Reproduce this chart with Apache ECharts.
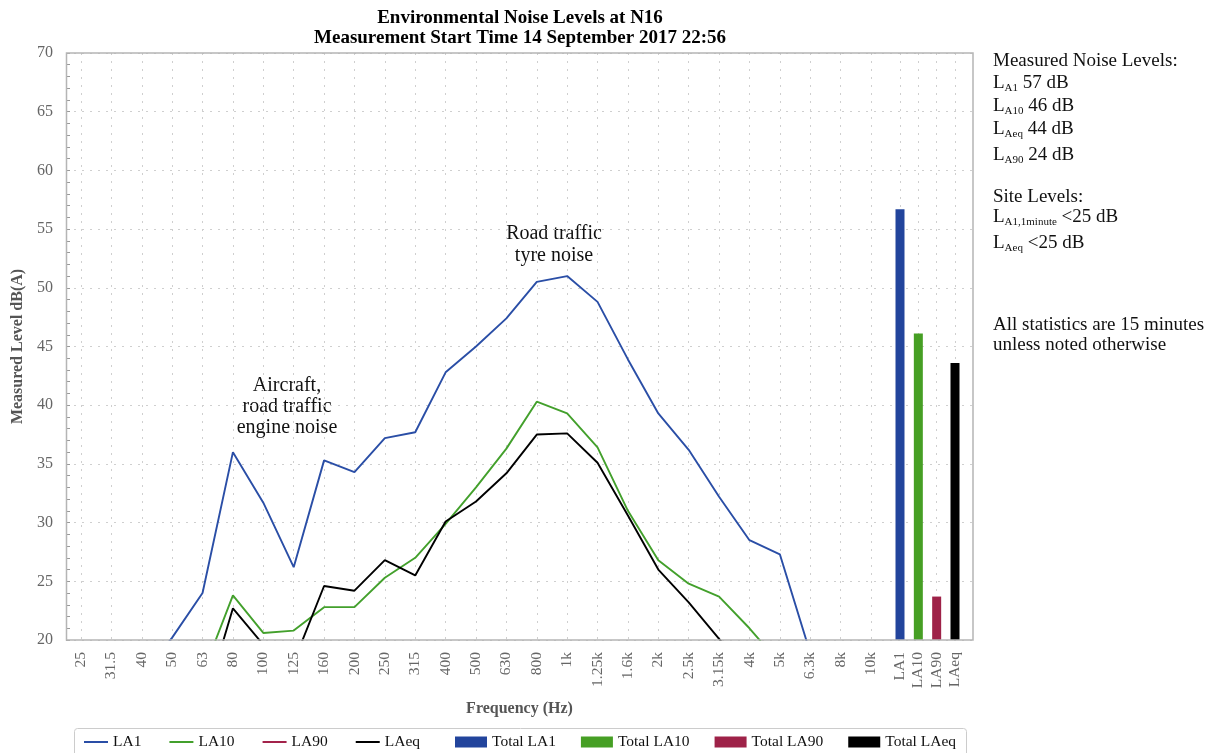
<!DOCTYPE html>
<html>
<head>
<meta charset="utf-8">
<script src="https://cdn.jsdelivr.net/npm/echarts@6/dist/echarts.min.js"></script>
<style>
  html, body { margin: 0; padding: 0; background: #fff; }
  #chart { width: 1216px; height: 753px; }
</style>
</head>
<body>
<div id="chart"></div>
<script>
// one-third octave bands, 25 Hz .. 10 kHz
const freqs = ['25', '31.5', '40', '50', '63', '80', '100', '125', '160', '200', '250', '315', '400',
  '500', '630', '800', '1k', '1.25k', '1.6k', '2k', '2.5k', '3.15k', '4k', '5k', '6.3k', '8k', '10k'];

// dB(A) per band (values under 20 are below the axis)
const la1 = [14, 15, 17, 20.2, 24.0, 36.0, 31.7, 26.2, 35.3, 34.3, 37.2, 37.7, 42.8, 45.0, 47.4,
  50.5, 51.0, 48.8, 43.9, 39.3, 36.2, 32.2, 28.5, 27.3, 18.9, 16, 14];
const la10 = [10, 11, 13, 15, 17.1, 23.8, 20.6, 20.8, 22.8, 22.8, 25.3, 27.0, 29.9, 33.0, 36.3,
  40.3, 39.3, 36.4, 31.0, 26.8, 24.8, 23.7, 21.0, 18.0, 15, 13, 11];
const la90 = [8, 8, 9, 10, 11, 14, 13, 12, 14, 14, 15, 16, 17, 18, 18,
  18, 18, 17, 16, 15, 14, 13, 12, 11, 10, 9, 8];
const laeq = [8, 9, 10, 12, 14, 22.7, 19.6, 18.1, 24.6, 24.2, 26.8, 25.5, 30.1, 31.8, 34.2,
  37.5, 37.6, 35.1, 30.6, 26.0, 23.2, 20.1, 17, 14, 12, 10, 8];

// overall levels
const totalCats = ['LA1', 'LA10', 'LA90', 'LAeq'];
const totals = [56.7, 46.1, 23.7, 43.6];

const yMin = 20;
const yMax = 70;
const yStep = 5;

const FONT = 'Liberation Serif';
const grey = '#666';
const colors = ['#2a4ea6', '#43a02c', '#a3234b', '#000000'];
const barColors = ['#22449c', '#469f24', '#9e2248', '#000000'];
const dotted = { type: [2, 6], color: '#cfcfcf', width: 1 };

const chart = echarts.init(document.getElementById('chart'));

const lineNames = ['LA1', 'LA10', 'LA90', 'LAeq'];
const lineData = [la1, la10, la90, laeq];
const lineSeries = lineNames.map((name, i) => ({
  name: name,
  type: 'line',
  xAxisIndex: 1,
  yAxisIndex: 1,
  data: lineData[i],
  symbol: 'none',
  clip: true,
  lineStyle: { color: colors[i], width: 1.9 },
  itemStyle: { color: colors[i] },
}));

const barNames = totalCats.map((c) => 'Total ' + c);
const barSeries = barNames.map((name, i) => ({
  name: name,
  type: 'bar',
  xAxisIndex: 2,
  yAxisIndex: 2,
  data: totalCats.map((c, j) => (j === i ? totals[i] : '-')),
  barWidth: 9,
  barGap: '-100%',
  clip: false,
  itemStyle: { color: barColors[i] },
}));

// right hand notes, L with subscript
const sub = (s, rest) => '{m|L}{s|' + s + '}{m|' + rest + '}';
const noteRich = {
  m: { fontSize: 19, fontFamily: FONT, lineHeight: 22, verticalAlign: 'middle' },
  s: { fontSize: 11, fontFamily: FONT, lineHeight: 13, verticalAlign: 'bottom' },
};
const notes = [
  ['{m|Measured Noise Levels:}', 61],
  [sub('A1', ' 57 dB'), 83],
  [sub('A10', ' 46 dB'), 106],
  [sub('Aeq', ' 44 dB'), 129],
  [sub('A90', ' 24 dB'), 155],
  ['{m|Site Levels:}', 197],
  [sub('A1,1minute', ' <25 dB'), 217],
  [sub('Aeq', ' <25 dB'), 243],
  ['{m|All statistics are 15 minutes}', 325],
  ['{m|unless noted otherwise}', 345],
];

const graphics = [
  {
    type: 'text', x: 520, y: 18,
    style: { text: 'Environmental Noise Levels at N16', font: 'bold 19px ' + FONT,
      fill: '#000', align: 'center', verticalAlign: 'middle' },
  },
  {
    type: 'text', x: 520, y: 38,
    style: { text: 'Measurement Start Time 14 September 2017 22:56', font: 'bold 19px ' + FONT,
      fill: '#000', align: 'center', verticalAlign: 'middle' },
  },
  {
    type: 'text', x: 287, y: 407,
    style: { text: 'Aircraft,\nroad traffic\nengine noise', font: '20px ' + FONT, lineHeight: 21,
      fill: '#111', align: 'center', verticalAlign: 'middle' },
  },
  {
    type: 'text', x: 554, y: 245,
    style: { text: 'Road traffic\ntyre noise', font: '20px ' + FONT, lineHeight: 22,
      fill: '#111', align: 'center', verticalAlign: 'middle' },
  },
  // plot frame
  {
    type: 'rect', z: 10, silent: true,
    shape: { x: 66.5, y: 53, width: 906.5, height: 587 },
    style: { fill: 'none', stroke: '#b5b5b5', lineWidth: 1.5 },
  },
  // legend box
  {
    type: 'rect', silent: true,
    shape: { x: 74.5, y: 728.5, width: 892, height: 40, r: 3 },
    style: { fill: 'none', stroke: '#cccccc', lineWidth: 1 },
  },
];
notes.forEach(([text, y]) => {
  graphics.push({
    type: 'text', x: 993, y: y,
    style: { text: text, rich: noteRich, fill: '#111', align: 'left', verticalAlign: 'middle' },
  });
});

chart.setOption({
  animation: false,
  textStyle: { fontFamily: FONT },
  grid: [
    { left: 66, top: 53, width: 907, height: 587 },
    { left: 81, top: 53, width: 790, height: 587 },
    { left: 900, top: 53, width: 55, height: 587 },
  ],
  xAxis: [
    {
      gridIndex: 0,
      type: 'value',
      min: 0,
      max: 1,
      name: 'Frequency (Hz)',
      nameLocation: 'middle',
      nameGap: 61,
      nameTextStyle: { color: '#555', fontWeight: 'bold', fontSize: 16, fontFamily: FONT },
      axisLine: { show: false },
      axisTick: { show: false },
      axisLabel: { show: false },
      splitLine: { show: false },
    },
    {
      gridIndex: 1,
      type: 'category',
      data: freqs,
      boundaryGap: false,
      axisLine: { show: false },
      axisTick: { show: false },
      axisLabel: { interval: 0, rotate: 90, margin: 12, color: grey, fontSize: 15.5, fontFamily: FONT },
      splitLine: { show: true, interval: 0, lineStyle: dotted },
    },
    {
      gridIndex: 2,
      type: 'category',
      data: totalCats,
      boundaryGap: false,
      axisLine: { show: false },
      axisTick: { show: false },
      axisLabel: { interval: 0, rotate: 90, margin: 12, color: grey, fontSize: 15.5, fontFamily: FONT },
      splitLine: { show: true, interval: 0, lineStyle: dotted },
    },
  ],
  yAxis: [
    {
      gridIndex: 0,
      type: 'value',
      min: yMin,
      max: yMax,
      interval: yStep,
      name: 'Measured Level dB(A)',
      nameLocation: 'middle',
      nameGap: 40,
      nameTextStyle: { color: '#555', fontWeight: 'bold', fontSize: 16, fontFamily: FONT },
      axisLine: { show: false },
      axisTick: { show: true, inside: true, length: 4, lineStyle: { color: '#999' } },
      minorTick: { show: true, splitNumber: 5, length: 4, lineStyle: { color: '#999' } },
      axisLabel: { color: grey, fontSize: 16, margin: 13, fontFamily: FONT },
      splitLine: { show: true, lineStyle: dotted },
    },
    { gridIndex: 1, type: 'value', min: yMin, max: yMax, interval: yStep, show: false },
    { gridIndex: 2, type: 'value', min: yMin, max: yMax, interval: yStep, startValue: yMin, show: false },
  ],
  legend: [
    {
      left: 84, top: 734, padding: 0,
      itemWidth: 24, itemHeight: 2, itemGap: 28,
      data: lineNames.map((n) => ({ name: n, icon: 'rect' })),
      textStyle: { color: '#111', fontSize: 15.5, fontFamily: FONT },
    },
    {
      left: 455, top: 734, padding: 0,
      itemWidth: 32, itemHeight: 11, itemGap: 25,
      data: barNames.map((n) => ({ name: n, icon: 'rect' })),
      textStyle: { color: '#111', fontSize: 15.5, fontFamily: FONT },
    },
  ],
  graphic: graphics,
  series: lineSeries.concat(barSeries),
});
</script>
</body>
</html>
